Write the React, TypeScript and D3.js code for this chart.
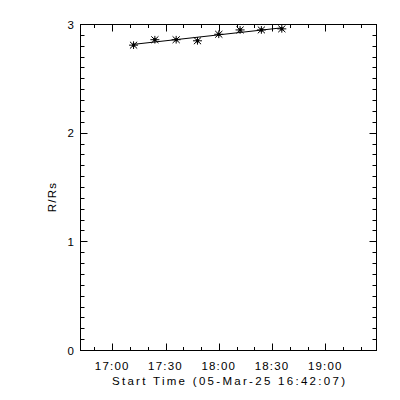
import React from "react";
import * as d3 from "d3";

const DAY = "2025-03-05";
const startTime = "16:42:07";
const endTime = "19:28:50";
const obsTimes = ["17:12:00", "17:24:00", "17:36:00", "17:48:00", "18:00:00", "18:12:00", "18:24:00", "18:35:30"];
const heights = [2.81, 2.86, 2.86, 2.85, 2.91, 2.95, 2.95, 2.96];
const yTickValues = [0, 1, 2, 3];
const xLabel = "Start Time (05-Mar-25 16:42:07)";
const yLabel = "R/Rs";

const W = 400;
const H = 400;
const left = 80.5;
const right = 376.5;
const top = 24.5;
const bottom = 350.5;

const parse = (t: string) => new Date(`${DAY}T${t}Z`);

export default function App() {
  const t0 = parse(startTime);
  const t1 = parse(endTime);
  const x = d3.scaleUtc().domain([t0, t1]).range([left, right]);
  const y = d3.scaleLinear().domain([0, 3]).range([bottom, top]);

  const pts = obsTimes.map((t, i) => ({ t: parse(t), h: heights[i] }));

  // linear least-squares fit line through the measurements
  const tm = d3.mean(pts, (p) => +p.t) as number;
  const hm = d3.mean(pts, (p) => p.h) as number;
  const sxy = d3.sum(pts, (p) => (+p.t - tm) * (p.h - hm));
  const sxx = d3.sum(pts, (p) => (+p.t - tm) ** 2);
  const slope = sxy / sxx;
  const fit = pts.map((p) => ({ t: p.t, h: hm + slope * (+p.t - tm) }));
  const line = d3
    .line<{ t: Date; h: number }>()
    .x((d) => x(d.t))
    .y((d) => y(d.h));

  const minorX = d3.utcMinute.every(10)!.range(t0, t1);
  const majorX = d3.utcMinute.every(30)!.range(t0, t1);
  const fmt = d3.utcFormat("%H:%M");
  const minorY = d3.range(0, 31).map((i) => i / 10);

  const font = "'Liberation Sans', Arial, sans-serif";
  const s = 4.5;

  return (
    <div style={{ position: "fixed", left: 0, top: 0 }}>
      <svg width={W} height={H} style={{ display: "block", background: "#fff" }}>
        <rect x={0} y={0} width={W} height={H} fill="#fff" />
        {/* axis frame */}
        <rect x={left} y={top} width={right - left} height={bottom - top} fill="none" stroke="#000" strokeWidth={1} />
        {/* x ticks */}
        {minorX.map((d, i) => {
          const xx = Math.round(x(d)) + 0.5;
          const isMajor = majorX.some((m) => +m === +d);
          const len = isMajor ? 7 : 3.5;
          return (
            <g key={"xt" + i} stroke="#000" strokeWidth={1}>
              <line x1={xx} x2={xx} y1={bottom} y2={bottom - len} />
              <line x1={xx} x2={xx} y1={top} y2={top + len} />
            </g>
          );
        })}
        {majorX.map((d, i) => (
          <text
            key={"xl" + i}
            x={x(d)}
            y={369.5}
            textAnchor="middle"
            fontFamily={font}
            fontSize={11.5}
            letterSpacing={1.2}
            fill="#000"
          >
            {fmt(d)}
          </text>
        ))}
        {/* y ticks */}
        {minorY.map((v, i) => {
          const yy = Math.round(y(v) - 0.5) + 0.5;
          const isMajor = Math.abs(v - Math.round(v)) < 1e-9;
          const len = isMajor ? 7 : 4;
          return (
            <g key={"yt" + i} stroke="#000" strokeWidth={1}>
              <line x1={left} x2={left + len} y1={yy} y2={yy} />
              <line x1={right} x2={right - len} y1={yy} y2={yy} />
            </g>
          );
        })}
        {yTickValues.map((v) => (
          <text
            key={"yl" + v}
            x={74}
            y={y(v) + 4}
            textAnchor="end"
            fontFamily={font}
            fontSize={11.5}
            fill="#000"
          >
            {v}
          </text>
        ))}
        {/* axis titles */}
        <text
          x={(left + right) / 2}
          y={385}
          textAnchor="middle"
          fontFamily={font}
          fontSize={11.5}
          textLength={233}
          lengthAdjust="spacing"
          fill="#000"
        >
          {xLabel}
        </text>
        <text
          transform={`translate(56,197) rotate(-90)`}
          textAnchor="middle"
          fontFamily={font}
          fontSize={11.5}
          letterSpacing={1.2}
          fill="#000"
        >
          {yLabel}
        </text>
        {/* fit line */}
        <path d={line(fit) || ""} fill="none" stroke="#000" strokeWidth={1} />
        {/* asterisk markers */}
        {pts.map((p, i) => {
          const cx = x(p.t);
          const cy = y(p.h);
          return (
            <g key={"p" + i} stroke="#000" strokeWidth={1}>
              <line x1={cx - s} x2={cx + s} y1={cy} y2={cy} />
              <line x1={cx} x2={cx} y1={cy - s * 0.85} y2={cy + s * 0.85} />
              <line x1={cx - s * 0.8} x2={cx + s * 0.8} y1={cy - s * 0.75} y2={cy + s * 0.75} />
              <line x1={cx - s * 0.8} x2={cx + s * 0.8} y1={cy + s * 0.75} y2={cy - s * 0.75} />
              <rect x={cx - 1.5} y={cy - 1.5} width={3} height={3} fill="#000" stroke="none" />
            </g>
          );
        })}
      </svg>
    </div>
  );
}
